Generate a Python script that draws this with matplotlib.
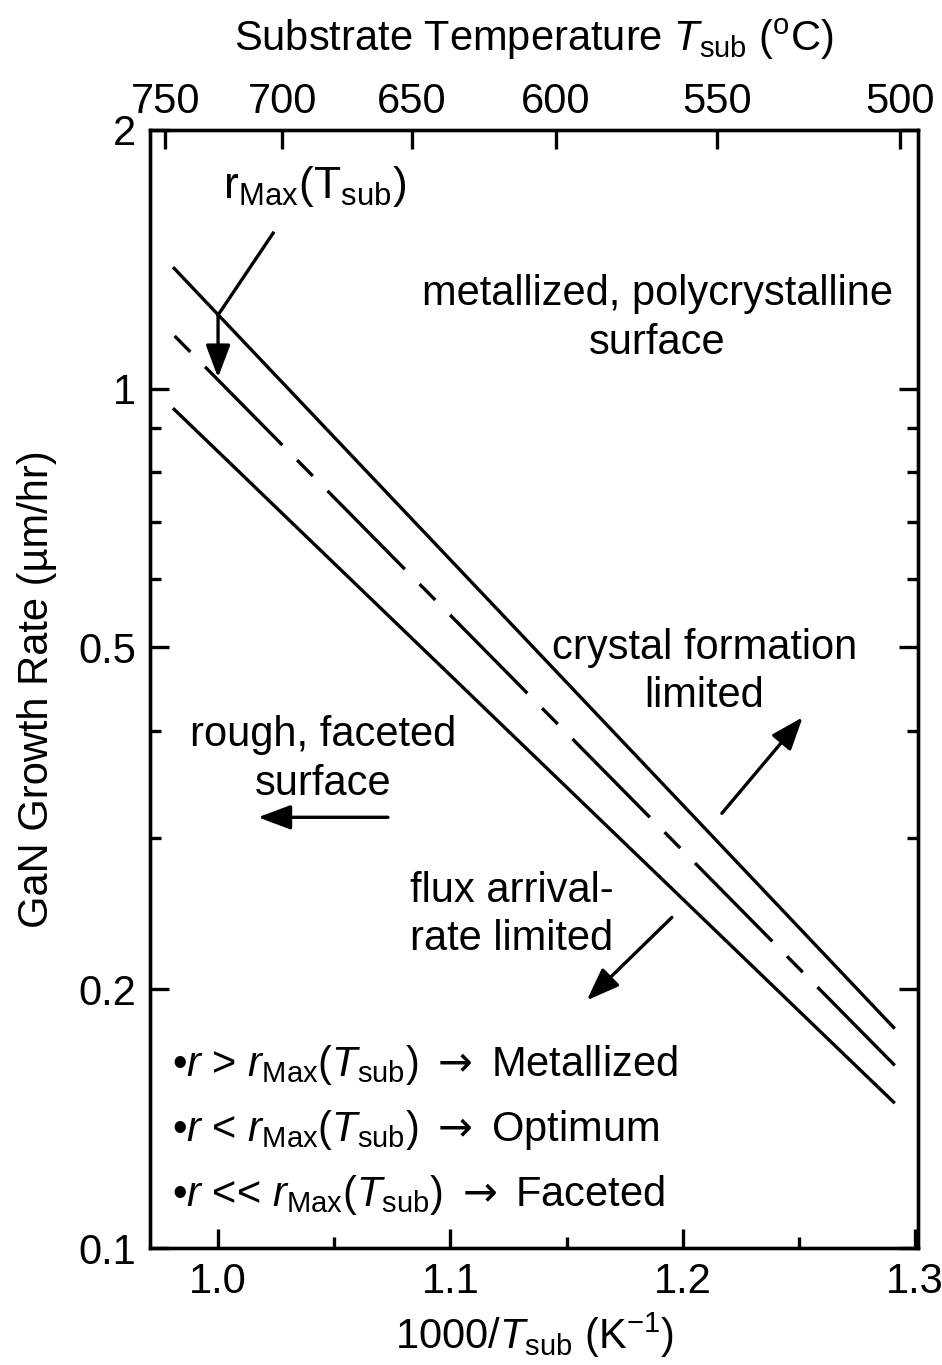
import matplotlib
matplotlib.use("Agg")
import matplotlib.pyplot as plt
import numpy as np

plt.rcParams['font.family'] = ['Liberation Sans', 'DejaVu Sans']
plt.rcParams['mathtext.fontset'] = 'custom'
plt.rcParams['mathtext.rm'] = 'Liberation Sans'
plt.rcParams['mathtext.it'] = 'Liberation Sans:italic'
plt.rcParams['mathtext.bf'] = 'Liberation Sans:bold'
plt.rcParams['mathtext.sf'] = 'DejaVu Sans'

# 1000/T_sub end points of the three boundary lines (K^-1)
x_upper = [0.9806, 1.2912]
x_rmax = [0.9800, 1.2929]
x_lower = [0.9806, 1.2912]
# growth rate at those end points (um/hr)
rate_upper = [1.385, 0.180]
rate_rmax = [1.161, 0.1614]
rate_lower = [0.949, 0.1474]

# top axis temperatures (deg C)
temps_c = [750, 700, 650, 600, 550, 500]

y_major = [0.1, 0.2, 0.5, 1, 2]
y_major_labels = ['0.1', '0.2', '0.5', '1', '2']
y_minor = [0.3, 0.4, 0.6, 0.7, 0.8, 0.9]
x_major = [1.0, 1.1, 1.2, 1.3]
x_minor = [1.05, 1.15, 1.25]

FS = 30
LW = 2.4
LS = 1.28

fig = plt.figure(figsize=(9.42, 13.65), dpi=100)
ax = fig.add_axes([0.1592, 0.0857, 0.8153, 0.8191])

ax.semilogy(x_upper, rate_upper, color='black', lw=LW, solid_capstyle='butt')
ax.semilogy(x_rmax, rate_rmax, color='black', lw=LW,
            linestyle=(38, (33, 6.3, 6.7, 6.3)))
ax.semilogy(x_lower, rate_lower, color='black', lw=LW, solid_capstyle='butt')

ax.set_xlim(0.9707, 1.3012)
ax.set_ylim(0.1, 2)

ax.set_yticks(y_major)
ax.set_yticklabels(y_major_labels)
ax.set_yticks(y_minor, minor=True)
ax.set_yticklabels([], minor=True)
ax.set_xticks(x_major)
ax.set_xticklabels(['1.0', '1.1', '1.2', '1.3'])
ax.set_xticks(x_minor, minor=True)

for s in ax.spines.values():
    s.set_linewidth(LW)
ax.tick_params(which='both', direction='in', width=LW, labelsize=FS,
               left=True, right=True, top=False, bottom=True)
ax.tick_params(which='major', length=14, pad=10)
ax.tick_params(which='minor', length=8)

ax.set_xlabel('1000/$T_{\\rm sub}$ (K$^{-1}$)', fontsize=FS, labelpad=6)
ax.set_ylabel('GaN Growth Rate (\u00b5m/hr)', fontsize=FS, labelpad=15)

# top axis: substrate temperature
top = ax.twiny()
top.set_xlim(ax.get_xlim())
top.set_xticks([1000.0 / (t + 273.15) for t in temps_c])
top.set_xticklabels([str(t) for t in temps_c])
top.tick_params(direction='in', width=LW, length=14, labelsize=FS, pad=6)
top.set_xlabel('Substrate Temperature $T_{\\rm sub}$ ($^{\\rm o}$C)',
               fontsize=FS, labelpad=22)
for s in top.spines.values():
    s.set_linewidth(LW)

arrow = dict(arrowstyle='-|>,head_length=2.0,head_width=0.75', color='black',
             lw=LW, shrinkA=0, shrinkB=0)

# r_Max label with bent pointer onto the dashed line
ax.text(1.0417, 1.72, r'$\mathrm{r_{Max}(T_{sub})}$', fontsize=32,
        ha='center', va='center')
ax.plot([1.0237, 1.0], [1.517, 1.218], color='black', lw=LW)
ax.annotate('', xy=(1.0, 1.03), xytext=(1.0, 1.22), arrowprops=arrow)

ax.text(1.1889, 1.207, 'metallized, polycrystalline\nsurface', fontsize=FS,
        ha='center', va='center', linespacing=LS)
ax.text(1.2092, 0.468, 'crystal formation\nlimited', fontsize=FS,
        ha='center', va='center', linespacing=LS)
ax.annotate('', xy=(1.2516, 0.4146), xytext=(1.2168, 0.3205), arrowprops=arrow)

ax.text(1.0452, 0.3705, 'rough, faceted\nsurface', fontsize=FS,
        ha='center', va='center', linespacing=LS)
ax.annotate('', xy=(1.0172, 0.3171), xytext=(1.0731, 0.3171), arrowprops=arrow)

ax.text(1.0826, 0.244, 'flux arrival-\nrate limited', fontsize=FS,
        ha='left', va='center', linespacing=LS)
ax.annotate('', xy=(1.1587, 0.1942), xytext=(1.1953, 0.2425), arrowprops=arrow)

bullets = [
    r'•$r$ > $r_{\rm Max}$($T_{\rm sub}$) $\mathsf{\rightarrow}$ Metallized',
    r'•$r$ < $r_{\rm Max}$($T_{\rm sub}$) $\mathsf{\rightarrow}$ Optimum',
    r'•$r$ << $r_{\rm Max}$($T_{\rm sub}$) $\mathsf{\rightarrow}$ Faceted',
]
for i, line in enumerate(bullets):
    ax.text(0.0286, 0.1637 - i * 0.0581, line, transform=ax.transAxes,
            fontsize=FS, ha='left', va='center')

fig.savefig('out.png', dpi=100)
